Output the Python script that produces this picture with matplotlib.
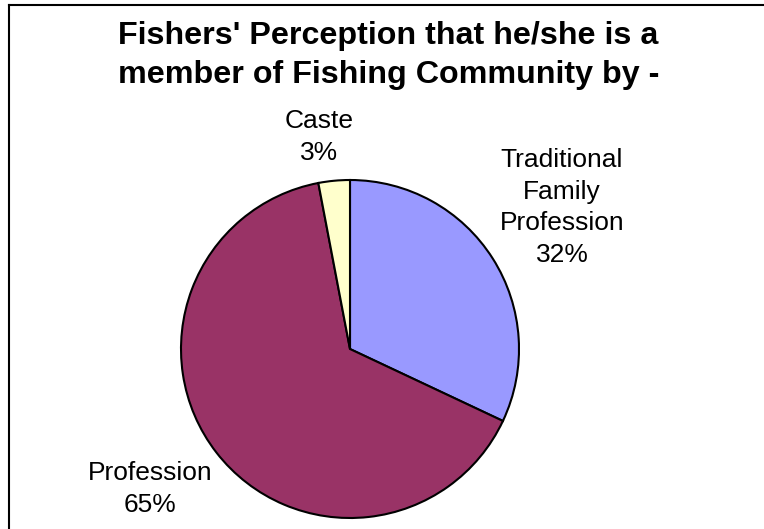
import matplotlib
matplotlib.use("Agg")
import matplotlib.pyplot as plt
from matplotlib.lines import Line2D

categories = ["Traditional\nFamily\nProfession", "Profession", "Caste"]
values = [32, 65, 3]
colors = ["#9999FF", "#993366", "#FFFFCC"]
title = "Fishers' Perception that he/she is a\nmember of Fishing Community by -"

W, H = 764, 529
fig = plt.figure(figsize=(W / 100, H / 100), dpi=100)
ax = fig.add_axes([0, 0, 1, 1])

cx, cy, r = 350, H - 349, 169
ax.pie(values, colors=colors, startangle=90, counterclock=False,
       center=(cx, cy), radius=r, frame=True,
       wedgeprops=dict(edgecolor="black", linewidth=1.5))
ax.set_xlim(0, W)
ax.set_ylim(0, H)
ax.set_aspect("equal")
ax.axis("off")

font = "Liberation Sans"
# label anchor: (center x, first-line baseline y in pixels from top)
label_pos = [(562, 167), (150, 480), (319, 128)]
step = 31.7
for cat, v, (x, y0) in zip(categories, values, label_pos):
    lines = cat.split("\n") + [f"{v}%"]
    for i, line in enumerate(lines):
        ax.text(x, H - (y0 + i * step), line, ha="center", va="baseline",
                fontsize=19, family=font)

tx = 388.5
for i, line in enumerate(title.split("\n")):
    ax.text(tx, H - (44 + i * 38.5), line, ha="center", va="baseline",
            fontsize=23.2, fontweight="bold", family=font)

# frame lines (left and top)
fig.add_artist(Line2D([9 / W, 9 / W], [0, 1 - 5 / H], color="black", lw=1.5))
fig.add_artist(Line2D([9 / W, 1], [1 - 5 / H, 1 - 5 / H], color="black", lw=1.5))

fig.savefig("out.png", dpi=100, facecolor="white")
